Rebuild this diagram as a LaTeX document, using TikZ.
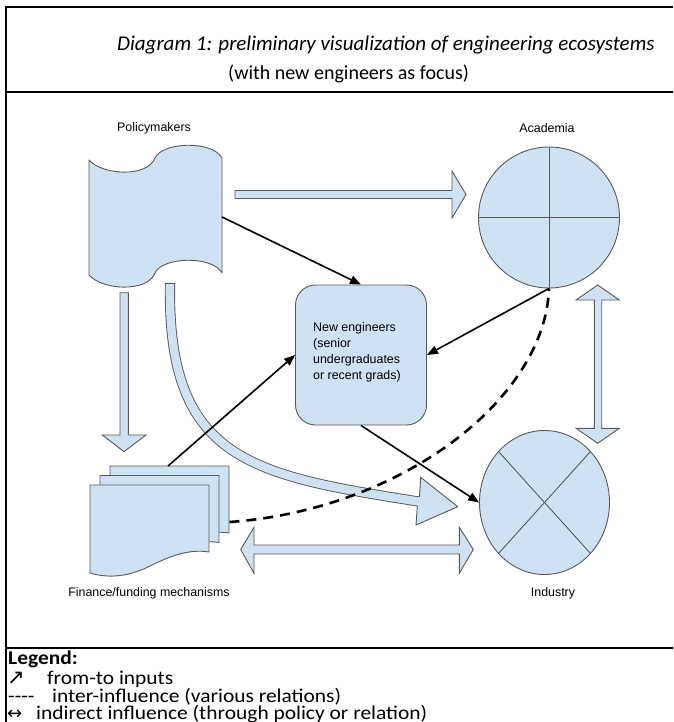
\documentclass[tikz,border=0pt]{standalone}
\usepackage{fontspec}
\setmainfont{Carlito}
\newfontfamily\arialf{Liberation Sans}
\newfontfamily\dejavu{DejaVu Sans}
\usetikzlibrary{arrows.meta,shapes.geometric}
\definecolor{shapefill}{HTML}{CFE2F3}
\definecolor{shapeline}{HTML}{595959}
\newcommand\wideleg[1]{\scalebox{1.1}[1]{#1}}
\begin{document}
\begin{tikzpicture}[x=1pt,y=-1pt,
  shp/.style={fill=shapefill, draw=shapeline, line width=0.9pt, line join=round},
  blk/.style={fill=shapefill, draw=shapeline, line width=0.9pt, line join=miter},
  conn/.style={draw=black, line width=1.6pt, -{Triangle[length=11pt,width=8.5pt]}},
  dashconn/.style={draw=black, line width=2.6pt, dash pattern=on 10pt off 7pt},
  lbl/.style={font=\arialf\fontsize{12.4}{16}\selectfont, inner sep=0pt},
  ttl/.style={font=\fontsize{20}{24}\selectfont, inner sep=0pt},
  leg/.style={font=\fontsize{19.5}{22}\selectfont, inner sep=0pt},
  sym/.style={font=\dejavu\fontsize{21}{24}\selectfont, inner sep=0pt},
  frame/.style={line width=2.2pt, draw=black}
]
\clip (0,0) rectangle (673,722);
\fill[white] (0,0) rectangle (673,722);

% frame
\draw[frame] (6,740) -- (6,7) -- (690,7);
\draw[frame] (5,92) -- (690,92);
\draw[frame] (5,648) -- (690,648);

% title
\node[ttl, anchor=base west, font=\fontsize{21}{24}\selectfont] (t1) at (117,51) {\itshape Diagram 1: preliminary visualization of engineering ecosystems};
\node[ttl, anchor=base west] (t2) at (228,80) {(with new engineers as focus)};

% labels
\node[lbl] (lpol) at (154,128) {Policymakers};
\node[lbl] (lacad) at (547,128) {Academia};
\node[lbl] (lind) at (553,593) {Industry};
\node[lbl] (lfin) at (149,593) {Finance/funding mechanisms};

% block arrows
\draw[blk] (235,190.5) -- (452,190.5) -- (452,171) -- (466,194.5) -- (452,218) -- (452,198.5) -- (235,198.5) -- cycle;
\draw[blk] (120,292.7) -- (120,435) -- (102.3,435) -- (124,451.7) -- (146,435) -- (128.3,435) -- (128.3,292.7) -- cycle;
\draw[blk] (597.7,285) -- (619.3,300) -- (601.7,300) -- (601.7,428.3) -- (619.3,428.3) -- (597.7,443.3) -- (576,428.3) -- (594.3,428.3) -- (594.3,300) -- (576,300) -- cycle;
\draw[blk] (240.7,549.5) -- (254,527.3) -- (254,545) -- (459.3,545) -- (459.3,527.3) -- (473.3,549.5) -- (459.3,573.3) -- (459.3,554) -- (254,554) -- (254,573.3) -- cycle;

% curved block arrow
\coordinate (cstart) at (170,283);
\coordinate (cend) at (418.5,501.5);
\draw[draw=shapeline, line width=0.9pt, double=shapefill, double distance=8.4pt] (cstart) .. controls (167,460) and (250,475) .. (cend);
\draw[shapeline, line width=0.9pt] (165.4,283) -- (174.6,283);
\fill[shapefill] (420.7,477.3) -- (457.7,506.7) -- (416,525) -- cycle;
\draw[shapeline, line width=0.9pt, line join=miter] (419.5,496.8) -- (420.7,477.3) -- (457.7,506.7) -- (416,525) -- (417.3,506.2);

% Policymakers tape shape
\draw[shp] (89,160) .. controls (102,175) and (147,178) .. (155,158) .. controls (162,142) and (212,140) .. (222,158) -- (222,273) .. controls (212,255) and (162,257) .. (155,273) .. controls (147,293) and (102,290) .. (89,275) -- cycle;
\coordinate (pol-e) at (222,217);

% Finance: stacked documents
\foreach \dx/\dy in {20/-19, 10/-9.5, 0/0}{
  \begin{scope}[shift={(\dx,\dy)}]
  \draw[shp] (90,485) -- (209,485) -- (209,552) .. controls (190,549) and (172,555) .. (150,566) .. controls (130,576) and (110,579) .. (90,573) -- cycle;
  \end{scope}
}
\coordinate (fin-n) at (168,466);
\coordinate (fin-e) at (229.5,522);

% Academia
\node[shp, circle, minimum size=141pt, inner sep=0pt] (acad) at (549,217.5) {};
\draw[shapeline, line width=0.9pt] (acad.north) -- (acad.south);
\draw[shapeline, line width=0.9pt] (acad.west) -- (acad.east);

% Industry
\node[shp, ellipse, minimum width=130pt, minimum height=144pt, inner sep=0pt] (ind) at (544.5,502.5) {};
\draw[shapeline, line width=0.9pt] (498.5,451.5) -- (590.5,553.5);
\draw[shapeline, line width=0.9pt] (590.5,451.5) -- (498.5,553.5);

% New engineers
\node[shp, rounded corners=20pt, minimum width=131pt, minimum height=140pt, inner sep=0pt] (eng) at (361,355) {};
\node[lbl, anchor=north west, align=left] (engtxt) at (313,322) {New engineers\\(senior\\undergraduates\\or recent grads)};

% connectors
\draw[conn] (pol-e) -- (eng.north);
\draw[conn] (fin-n) -- (eng.west);
\draw[conn] (acad.south) -- (eng.east);
\draw[conn] (eng.south) -- (ind.west);
\draw[dashconn] (fin-e) .. controls (400,510) and (545,400) .. (acad.south);

% legend
\node[leg, anchor=base west] (lg) at (8,664) {\wideleg{\bfseries Legend:}};
\node[sym, anchor=base west] (l1s) at (7,684) {↗};
\node[leg, anchor=base west] (l1) at (47,684) {\wideleg{from-to inputs}};
\node[leg, anchor=base west] (l2s) at (8,702) {\wideleg{{-}{-}{-}{-}}};
\node[leg, anchor=base west] (l2) at (52,702) {\wideleg{inter-influence (various relations)}};
\node[sym, anchor=base west, font=\dejavu\fontsize{18}{20}\selectfont] (l3s) at (7,719) {↔};
\node[leg, anchor=base west] (l3) at (36,719) {\wideleg{indirect influence (through policy or relation)}};
\end{tikzpicture}
\end{document}
